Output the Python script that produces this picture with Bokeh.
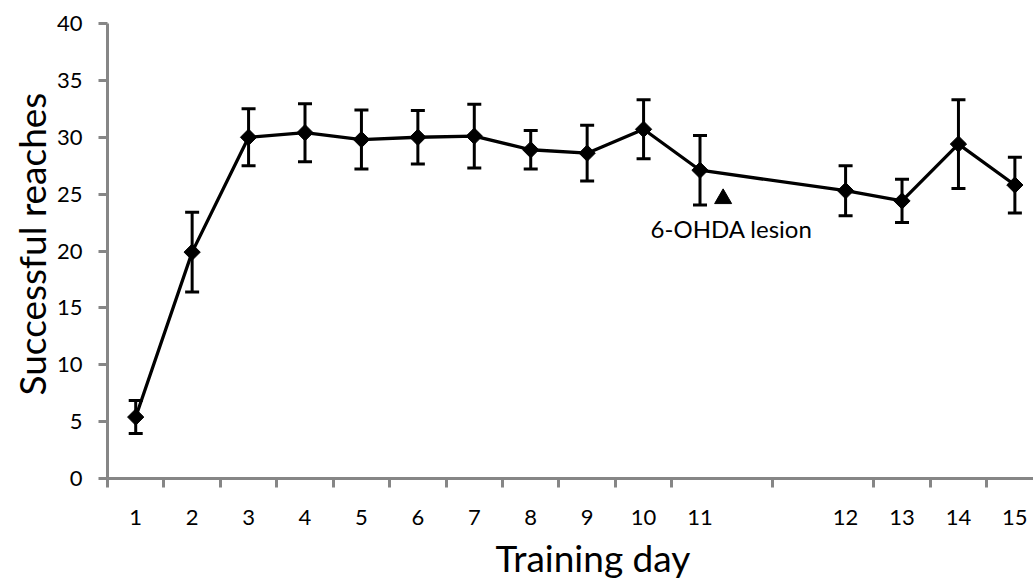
import numpy as np
from bokeh.plotting import figure
from bokeh.models import (ColumnDataSource, Range1d, FixedTicker, Whisker, TeeHead,
                          Title)
from bokeh.core.properties import value
from bokeh.embed import file_html
from bokeh.resources import INLINE

# Training days and where each sits on the horizontal axis (gap after day 11)
days = ["1", "2", "3", "4", "5", "6", "7", "8", "9", "10", "11", "12", "13", "14", "15"]
day_x = [1, 2, 3, 4, 5, 6, 7, 8, 9, 10, 11, 13.58, 14.58, 15.58, 16.58]

# Mean successful reaches and standard error per day
reaches = [5.4, 19.9, 30.0, 30.4, 29.8, 30.0, 30.1, 28.9, 28.6, 30.7, 27.1, 25.3, 24.4, 29.4, 25.8]
sem = [1.45, 3.5, 2.5, 2.55, 2.6, 2.35, 2.8, 1.7, 2.45, 2.6, 3.05, 2.2, 1.9, 3.9, 2.45]

y_ticks = [0, 5, 10, 15, 20, 25, 30, 35, 40]

# Lesion marker location
lesion_x = 11.41
lesion_y = 24.6
lesion_text = "6-OHDA lesion"

FONT = "Lato"
AXIS_GREY = "#868686"

x = np.array(day_x, dtype=float)
m = np.array(reaches)
e = np.array(sem)
src = ColumnDataSource(dict(x=x, y=m, lo=m - e, hi=m + e))

# Category boundaries: axis start, then midpoints between neighbouring days
bounds = [x[0] - 0.5] + list((x[:-1] + x[1:]) / 2)

p = figure(width=1033, height=585, output_backend="svg", toolbar_location=None,
           x_range=Range1d(0.5, 16.91), y_range=Range1d(0, 40),
           min_border_left=107, min_border_right=0, min_border_top=23,
           min_border_bottom=107)
p.outline_line_color = None
p.grid.visible = False
p.background_fill_color = "white"
p.border_fill_color = "white"

# x axis: labels under each day, tick marks at the boundaries
xa = p.xaxis[0]
xa.ticker = FixedTicker(ticks=list(x), minor_ticks=bounds)
xa.major_label_overrides = {float(v): d for v, d in zip(x, days)}
xa.major_tick_line_color = None
xa.minor_tick_line_color = AXIS_GREY
xa.minor_tick_line_width = 3
xa.minor_tick_out = 9
xa.minor_tick_in = 0
xa.axis_line_color = AXIS_GREY
xa.axis_line_width = 3
xa.major_label_text_font = FONT
xa.major_label_text_font_size = "22px"
xa.major_label_text_color = "black"
xa.major_label_standoff = 22

ya = p.yaxis[0]
ya.ticker = FixedTicker(ticks=y_ticks, minor_ticks=[])
ya.major_tick_line_color = AXIS_GREY
ya.major_tick_line_width = 3
ya.major_tick_out = 9
ya.major_tick_in = 0
ya.minor_tick_line_color = None
ya.axis_line_color = AXIS_GREY
ya.axis_line_width = 3
ya.major_label_text_font = FONT
ya.major_label_text_font_size = "22px"
ya.major_label_text_color = "black"
ya.major_label_standoff = 16

# axis titles
p.add_layout(Title(text="Training day", align="left", offset=388,
                   text_font=FONT, text_font_size="37px", text_font_style="normal",
                   text_color="black", standoff=10), "below")
p.add_layout(Title(text="Successful reaches", align="left", offset=83,
                   text_font=FONT, text_font_size="37px", text_font_style="normal",
                   text_color="black", standoff=0), "left")

# error bars
p.add_layout(Whisker(source=src, base="x", lower="lo", upper="hi",
                     line_color="black", line_width=3,
                     upper_head=TeeHead(size=14, line_color="black", line_width=3),
                     lower_head=TeeHead(size=14, line_color="black", line_width=3)))

p.line("x", "y", source=src, line_color="black", line_width=3.3)
p.scatter("x", "y", source=src, marker="square", angle=np.pi / 4, size=11.5,
          fill_color="black", line_color="black")

# lesion annotation
p.scatter([lesion_x], [lesion_y], marker="triangle", size=17,
          fill_color="black", line_color="black")
p.text([lesion_x + 0.15], [lesion_y - 2.6], text=[lesion_text],
       text_font=value(FONT), text_font_size="24px", text_color="black",
       text_align="center", text_baseline="middle")

open("out.html", "w").write(file_html(p, INLINE))
